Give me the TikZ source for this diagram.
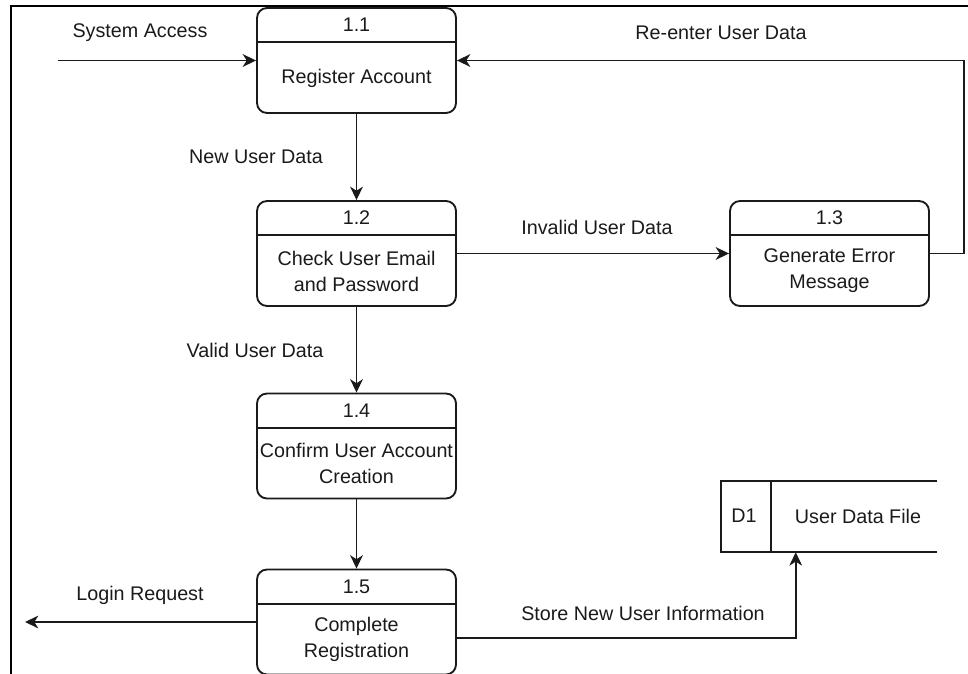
\documentclass[tikz,border=0pt]{standalone}
\usepackage{fontspec}
\setmainfont{Liberation Sans}
\usetikzlibrary{arrows.meta,calc}
\definecolor{ink}{HTML}{1A1A1A}
\newcommand{\dfont}{\fontsize{14.8}{19.5}\selectfont}
\tikzset{
  procbox/.style={draw=ink, line width=1.4pt, rounded corners=7.5pt,
    minimum width=149.25pt, minimum height=78.75pt, inner sep=0pt},
  lbl/.style={font=\dfont, text=ink, inner sep=0pt, align=center},
  flow/.style={draw=ink, line width=1.4pt,
    -{Stealth[length=10pt,width=9.5pt,inset=3pt]}},
  rule/.style={draw=ink, line width=1.4pt},
  frameline/.style={draw=black, line width=2.2pt},
}
% process box: name, centre, number, description
\newcommand{\procnode}[4]{%
  \node[procbox] (#1) at (#2) {};
  \draw[rule] ($(#1.north west)+(0,35)$) -- ($(#1.north east)+(0,35)$);
  \node[lbl] (#1-num) at ($(#1.north)+(0,18)$) {#3};
  \node[lbl] (#1-txt) at ($(#1.center)+(0,17.5)$) {#4};
}
\begin{document}
\begin{tikzpicture}[x=0.75pt,y=-0.75pt]
  \useasboundingbox (0,0) rectangle (968,674);
  % outer frame
  \draw[frameline] (11,676) -- (11,6) -- (970,6);

  % processes
  \procnode{p11}{356.5,60.5}{1.1}{Register Account}
  \procnode{p12}{356.5,253.5}{1.2}{Check User Email\\and Password}
  \procnode{p13}{829.5,253.5}{1.3}{Generate Error\\Message}
  \procnode{p14}{356.5,446}{1.4}{Confirm User Account\\Creation}
  \procnode{p15}{356.5,622}{1.5}{Complete\\Registration}

  % data store
  \node[minimum width=162pt, minimum height=53.25pt, inner sep=0pt] (d1) at (829,516.5) {};
  \draw[rule] (d1.north east) -- (d1.north west) -- (d1.south west) -- (d1.south east);
  \draw[rule] ($(d1.north west)+(50,0)$) -- ($(d1.south west)+(50,0)$);
  \node[lbl] (d1-id) at (744,516) {D1};
  \node[lbl] (d1-name) at (858,516) {User Data File};

  % free ends of flows
  \coordinate (sysin) at (58,60.5);
  \coordinate (loginout) at (25,623);

  % flows
  \draw[flow] (sysin) -- (p11.west);
  \node[lbl] (l-sys) at (140,33) {System Access};

  \draw[flow] (p11.south) -- (p12.north);
  \node[lbl] (l-new) at (256,157) {New User Data};

  \draw[flow] (p12.east) -- (p13.west);
  \node[lbl] (l-inv) at (597,227) {Invalid User Data};

  \draw[flow] (p13.east) -- ++(34,0) |- (p11.east);
  \node[lbl] (l-re) at (721,33) {Re-enter User Data};

  \draw[flow] (p12.south) -- (p14.north);
  \node[lbl] (l-valid) at (255,350) {Valid User Data};

  \draw[flow] (p14.south) -- (p15.north);

  \draw[flow] (p15.west) -- (loginout |- p15.west);
  \node[lbl] (l-login) at (140,595) {Login Request};

  \draw[flow] ($(p15.east)+(0,16)$) -| ($(d1.south west)+(75,0)$);
  \node[lbl] (l-store) at (643,613) {Store New User Information};
\end{tikzpicture}
\end{document}
